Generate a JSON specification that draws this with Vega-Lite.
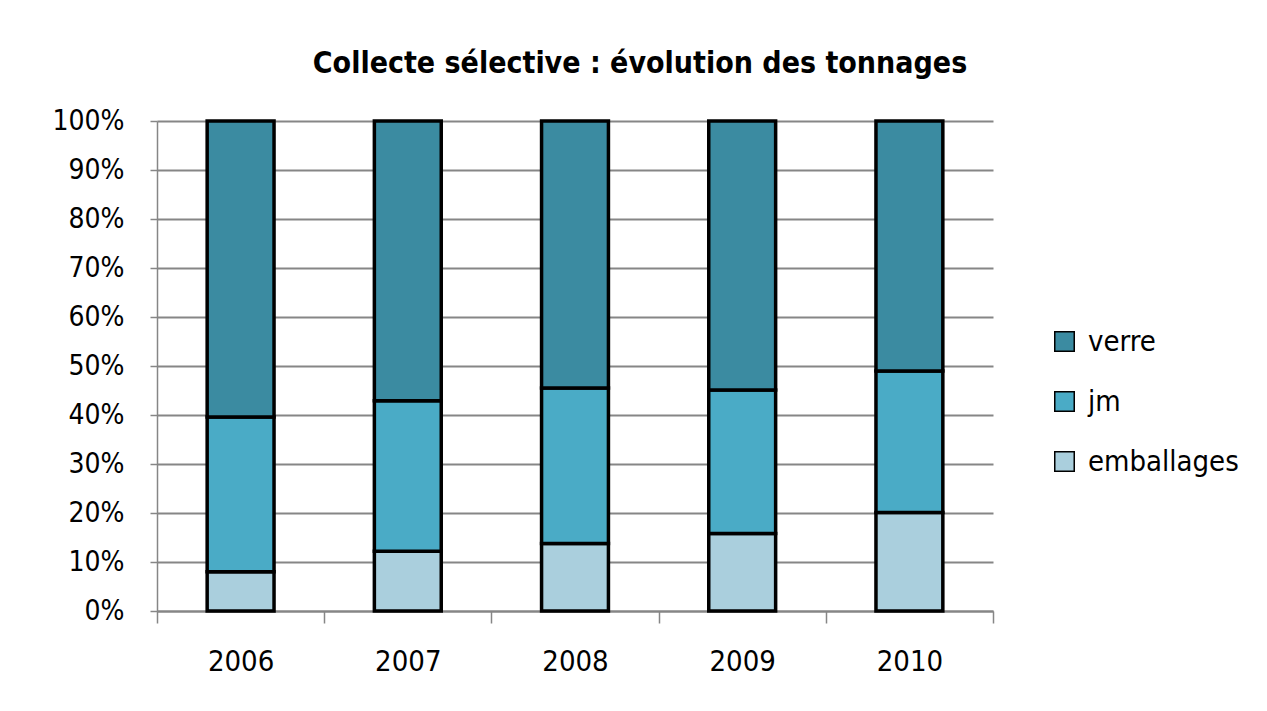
{
  "$schema": "https://vega.github.io/schema/vega-lite/v6.json",
  "width": 836,
  "height": 490,
  "autosize": {"type": "none"},
  "padding": {"left": 157, "top": 121, "right": 274, "bottom": 100},
  "background": "white",
  "title": {
    "text": "Collecte sélective : évolution des tonnages",
    "font": "DejaVu Sans Condensed",
    "fontSize": 30,
    "fontWeight": "bold",
    "color": "#000000",
    "anchor": "middle",
    "dx": 65,
    "offset": 28
  },
  "data": {
    "values": [
      {"annee": "2006", "type": "emballages", "ord": 1, "valeur": 8.0},
      {"annee": "2006", "type": "jm", "ord": 2, "valeur": 31.6},
      {"annee": "2006", "type": "verre", "ord": 3, "valeur": 60.4},
      {"annee": "2007", "type": "emballages", "ord": 1, "valeur": 12.2},
      {"annee": "2007", "type": "jm", "ord": 2, "valeur": 30.7},
      {"annee": "2007", "type": "verre", "ord": 3, "valeur": 57.1},
      {"annee": "2008", "type": "emballages", "ord": 1, "valeur": 13.8},
      {"annee": "2008", "type": "jm", "ord": 2, "valeur": 31.7},
      {"annee": "2008", "type": "verre", "ord": 3, "valeur": 54.5},
      {"annee": "2009", "type": "emballages", "ord": 1, "valeur": 15.8},
      {"annee": "2009", "type": "jm", "ord": 2, "valeur": 29.3},
      {"annee": "2009", "type": "verre", "ord": 3, "valeur": 54.9},
      {"annee": "2010", "type": "emballages", "ord": 1, "valeur": 20.1},
      {"annee": "2010", "type": "jm", "ord": 2, "valeur": 28.9},
      {"annee": "2010", "type": "verre", "ord": 3, "valeur": 51.0}
    ]
  },
  "mark": {"type": "bar", "stroke": "#000000", "strokeWidth": 3.5, "width": {"band": 0.4}},
  "encoding": {
    "x": {
      "field": "annee",
      "type": "nominal",
      "scale": {"paddingInner": 0, "paddingOuter": 0},
      "axis": {
        "title": null,
        "labelAngle": 0,
        "labelFont": "DejaVu Sans Condensed",
        "labelFontSize": 29,
        "labelColor": "#000000",
        "labelPadding": 24,
        "tickBand": "extent",
        "tickSize": 12,
        "tickColor": "#868686",
        "tickWidth": 1.5,
        "domainColor": "#868686",
        "domainWidth": 2,
        "grid": false
      }
    },
    "y": {
      "field": "valeur",
      "type": "quantitative",
      "stack": "normalize",
      "scale": {"domain": [0, 1]},
      "axis": {
        "title": null,
        "values": [0, 0.1, 0.2, 0.3, 0.4, 0.5, 0.6, 0.7, 0.8, 0.9, 1],
        "format": ".0%",
        "labelFont": "DejaVu Sans Condensed",
        "labelFontSize": 28,
        "labelColor": "#000000",
        "labelPadding": 26,
        "tickSize": 7,
        "tickColor": "#868686",
        "tickWidth": 1.5,
        "domainColor": "#868686",
        "domainWidth": 1.5,
        "grid": true,
        "gridColor": "#868686",
        "gridWidth": 2,
        "gridOpacity": 1
      }
    },
    "order": {"field": "ord", "type": "quantitative"},
    "color": {
      "field": "type",
      "type": "nominal",
      "scale": {
        "domain": ["verre", "jm", "emballages"],
        "range": ["#3B8BA1", "#4AABC6", "#AACFDD"]
      },
      "legend": {
        "title": null,
        "orient": "none",
        "legendX": 893,
        "legendY": 206,
        "symbolType": "square",
        "symbolSize": 380,
        "symbolStrokeColor": "#000000",
        "symbolStrokeWidth": 1.5,
        "labelFont": "DejaVu Sans Condensed",
        "labelFontSize": 29,
        "labelColor": "#000000",
        "labelOffset": 9,
        "rowPadding": 30
      }
    }
  },
  "config": {"view": {"stroke": null}}
}
